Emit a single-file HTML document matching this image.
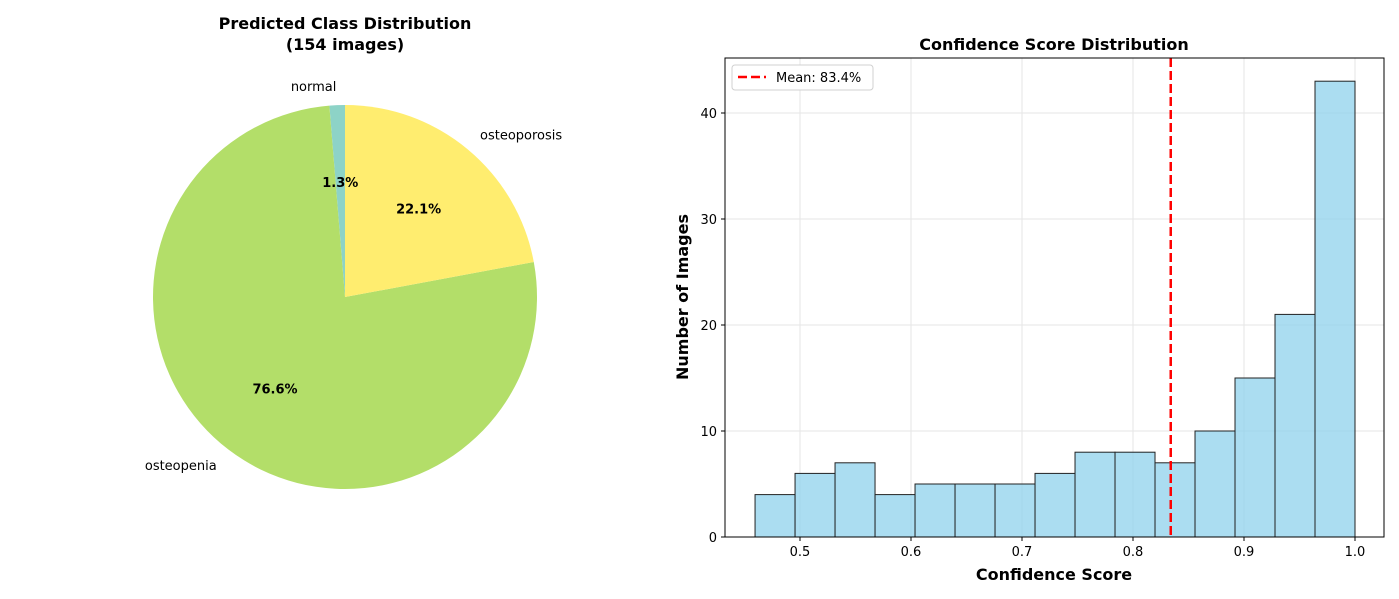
<!DOCTYPE html>
<html><head><meta charset="utf-8"><style>
html,body{margin:0;padding:0;background:#fff;}
svg{display:block;font-family:"DejaVu Sans","Liberation Sans",sans-serif;}
</style></head><body>
<svg id="root" width="1399" height="599" viewBox="0 0 1399 599">
<g id="pie">
<text x="345" y="29" text-anchor="middle" font-size="16" font-weight="bold">Predicted Class Distribution</text>
<text x="345" y="50" text-anchor="middle" font-size="16" font-weight="bold">(154 images)</text>
</g>
<g id="hist">
<text x="1054" y="50" text-anchor="middle" font-size="16" font-weight="bold">Confidence Score Distribution</text>
<text x="1054" y="580" text-anchor="middle" font-size="16" font-weight="bold">Confidence Score</text>
<text transform="translate(688,297) rotate(-90)" text-anchor="middle" font-size="16" font-weight="bold">Number of Images</text>
</g>
</svg>
<script>
const pieLabels = ["normal","osteopenia","osteoporosis"];
const pieCounts = [2,118,34];
const pieColors = ["#8dd3c7","#b3de69","#ffed6f"];
const binStart = 0.4595;
const binEnd = 1.0;
const binCounts = [4,6,7,4,5,5,5,6,8,8,7,10,15,21,43];
const meanValue = 0.834;
const xTicks = [0.5,0.6,0.7,0.8,0.9,1.0];
const yTicks = [0,10,20,30,40];

const NS="http://www.w3.org/2000/svg";
function mk(tag,attrs,parent){const e=document.createElementNS(NS,tag);for(const k in attrs)e.setAttribute(k,attrs[k]);parent.appendChild(e);return e;}

// Pie
const pie=document.getElementById('pie');
const cx=345,cy=297,R=192;
const total=pieCounts.reduce((a,b)=>a+b,0);
let ang=90;
const mids=[];
pieCounts.forEach((c,i)=>{
  const sweep=c/total*360;
  const a0=ang*Math.PI/180,a1=(ang+sweep)*Math.PI/180;
  const x0=cx+R*Math.cos(a0),y0=cy-R*Math.sin(a0),x1=cx+R*Math.cos(a1),y1=cy-R*Math.sin(a1);
  const p=mk('path',{d:`M${cx},${cy} L${x0},${y0} A${R},${R} 0 ${sweep>180?1:0} 0 ${x1},${y1} Z`,fill:pieColors[i]},pie);
  
  
  mids.push((ang+sweep/2)*Math.PI/180);
  ang+=sweep;
});
pieCounts.forEach((c,i)=>{
  const mid=mids[i];
  const lx=cx+1.1*R*Math.cos(mid),ly=cy-1.1*R*Math.sin(mid);
  const t=mk('text',{x:lx,y:ly+5,'text-anchor':Math.cos(mid)>=0?'start':'end','font-size':'13'},pie);
  t.textContent=pieLabels[i];
  
  
  const px=cx+0.6*R*Math.cos(mid),py=cy-0.6*R*Math.sin(mid);
  const pt=mk('text',{x:px,y:py+5,'text-anchor':'middle','font-size':'13','font-weight':'bold'},pie);
  pt.textContent=(c/total*100).toFixed(1)+'%';
  
  
});

// Histogram
const hist=document.getElementById('hist');
const L=725,Rt=1384,T=58,B=537;
const X=v=>800+(v-0.5)*1110;
const Y=v=>537-v*10.6;
xTicks.forEach(v=>{
  const g=mk('line',{x1:X(v),x2:X(v),y1:T,y2:B,stroke:'#e6e6e6','stroke-width':1},hist);
  
  
  mk('line',{x1:X(v),x2:X(v),y1:B,y2:B+4,stroke:'#000'},hist);
  const t=mk('text',{x:X(v),y:B+19,'text-anchor':'middle','font-size':'13'},hist);
  t.textContent=v.toFixed(1);
  
  
});
yTicks.forEach(v=>{
  const g=mk('line',{x1:L,x2:Rt,y1:Y(v),y2:Y(v),stroke:'#e6e6e6','stroke-width':1},hist);
  
  
  mk('line',{x1:L-4,x2:L,y1:Y(v),y2:Y(v),stroke:'#000'},hist);
  const t=mk('text',{x:L-8,y:Y(v)+5,'text-anchor':'end','font-size':'13'},hist);
  t.textContent=v;
  
  
});
const bw=(binEnd-binStart)/binCounts.length;
binCounts.forEach((c,i)=>{
  const x0=X(binStart+i*bw),x1=X(binStart+(i+1)*bw);
  const r=mk('rect',{x:x0,y:Y(c),width:x1-x0,height:Y(0)-Y(c),fill:'#87ceeb','fill-opacity':0.7,stroke:'#222','stroke-width':1},hist);
  
  
});
const ml=mk('line',{x1:X(meanValue),x2:X(meanValue),y1:T,y2:B,stroke:'#ff0000','stroke-width':2.5,'stroke-dasharray':'9,4'},hist);


const fr=mk('rect',{x:L,y:T,width:Rt-L,height:B-T,fill:'none',stroke:'#000','stroke-width':1},hist);


const lg=mk('g',{},hist);


mk('rect',{x:732,y:65,width:141,height:25,rx:3,fill:'#fff',stroke:'#d0d0d0'},lg);
mk('line',{x1:738,x2:766,y1:77,y2:77,stroke:'#ff0000','stroke-width':2.5,'stroke-dasharray':'9,4'},lg);
const lt=mk('text',{x:776,y:82,'font-size':'13'},lg);
lt.textContent='Mean: '+(meanValue*100).toFixed(1)+'%';


</script>
</body></html>
